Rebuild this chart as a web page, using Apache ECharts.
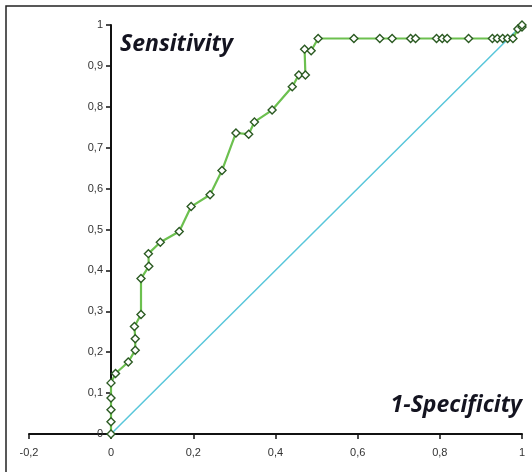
<!DOCTYPE html>
<html>
<head>
<meta charset="utf-8">
<script src="https://cdn.jsdelivr.net/npm/echarts@6/dist/echarts.min.js"></script>
<style>html,body{margin:0;padding:0;background:#fff;}#c{width:532px;height:472px;}</style>
</head>
<body>
<div id="c"></div>
<script>
// 1-Specificity (false positive rate)
var fpr = [0, 0, 0, 0, 0, 0.011, 0.042, 0.059, 0.059, 0.057, 0.073, 0.073, 0.092, 0.091, 0.12, 0.166, 0.195, 0.241, 0.270, 0.304, 0.335, 0.349, 0.392, 0.441, 0.457, 0.473, 0.471, 0.487, 0.504, 0.591, 0.654, 0.684, 0.729, 0.741, 0.792, 0.806, 0.818, 0.870, 0.928, 0.940, 0.953, 0.965, 0.978, 0.99, 1, 1];
// Sensitivity (true positive rate)
var tpr = [0, 0.03, 0.059, 0.088, 0.125, 0.148, 0.176, 0.205, 0.233, 0.263, 0.292, 0.380, 0.410, 0.441, 0.469, 0.495, 0.556, 0.585, 0.644, 0.736, 0.733, 0.763, 0.792, 0.849, 0.878, 0.878, 0.941, 0.937, 0.967, 0.967, 0.967, 0.967, 0.967, 0.967, 0.967, 0.967, 0.967, 0.967, 0.967, 0.967, 0.967, 0.967, 0.967, 0.99, 0.995, 1];
// reference diagonal
var diagX = [0, 1];
var diagY = [0, 1];
var xTickLabels = ['-0,2', '0', '0,2', '0,4', '0,6', '0,8', '1'];
var yTickLabels = ['0', '0,1', '0,2', '0,3', '0,4', '0,5', '0,6', '0,7', '0,8', '0,9', '1'];
var yTitle = 'Sensitivity';
var xTitle = '1-Specificity';

var rocData = fpr.map(function (x, i) { return [x, tpr[i]]; });
var diagData = diagX.map(function (x, i) { return [x, diagY[i]]; });

var chart = echarts.init(document.getElementById('c'), null, {renderer: 'canvas'});
var titleFont = {fontFamily: 'Open Sans', fontWeight: 'bold', fontStyle: 'italic', fontSize: 23, fill: '#141420'};
var axisLineStyle = {color: '#111', width: 2};
var tickStyle = {color: '#111', width: 1.5};
var labelBase = {color: '#333', fontSize: 11, fontFamily: 'Liberation Sans'};
chart.setOption({
  animation: false,
  backgroundColor: '#fff',
  grid: [
    {left: 111, right: 10, top: 25, bottom: 38, containLabel: false},
    {left: 29, right: 10, top: 25, bottom: 38, containLabel: false}
  ],
  xAxis: [
    {
      gridIndex: 0, type: 'value', min: 0, max: 1, interval: 0.2,
      axisLine: {show: false}, axisTick: {show: false}, axisLabel: {show: false}, splitLine: {show: false}
    },
    {
      gridIndex: 1, type: 'value', min: -0.2, max: 1, interval: 0.2,
      axisLine: {onZero: false, lineStyle: axisLineStyle},
      axisTick: {show: true, length: 5, lineStyle: tickStyle},
      splitLine: {show: false},
      axisLabel: Object.assign({
        margin: 13,
        formatter: function (v) { return xTickLabels[Math.round((v + 0.2) / 0.2)]; }
      }, labelBase)
    }
  ],
  yAxis: [
    {
      gridIndex: 0, type: 'value', min: 0, max: 1, interval: 0.1,
      axisLine: {show: true, onZero: false, lineStyle: axisLineStyle},
      axisTick: {show: true, length: 5, lineStyle: tickStyle},
      splitLine: {show: false},
      axisLabel: Object.assign({
        margin: 8,
        formatter: function (v) { return yTickLabels[Math.round(v / 0.1)]; }
      }, labelBase)
    },
    {
      gridIndex: 1, type: 'value', min: 0, max: 1, show: false
    }
  ],
  series: [
    {
      type: 'line', xAxisIndex: 0, yAxisIndex: 0, data: diagData, symbol: 'none', z: 2,
      lineStyle: {color: '#58c6da', width: 1.5}
    },
    {
      type: 'line', xAxisIndex: 0, yAxisIndex: 0, data: rocData, z: 3,
      symbol: 'diamond', symbolSize: 8,
      lineStyle: {color: '#6cc04f', width: 2.2},
      itemStyle: {color: '#fff', borderColor: '#2b5a22', borderWidth: 1.4}
    }
  ],
  graphic: [
    {type: 'rect', shape: {x: 6, y: 6, width: 540, height: 480}, style: {fill: 'none', stroke: '#222', lineWidth: 1.5}, silent: true},
    {type: 'text', left: 120, top: 33, style: Object.assign({text: yTitle}, titleFont)},
    {type: 'text', right: 10, top: 394, style: Object.assign({text: xTitle}, titleFont)}
  ]
});
</script>
</body>
</html>
